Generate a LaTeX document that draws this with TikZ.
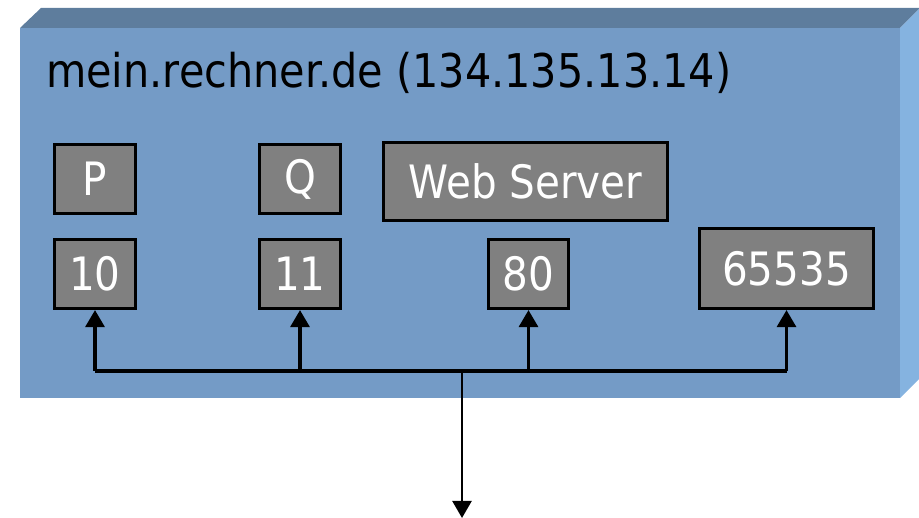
\documentclass[tikz,border=0pt]{standalone}
\usepackage{fontspec}
\setmainfont{DejaVu Sans}[FakeStretch=0.88]
\newfontfamily\titlefont{DejaVu Sans}[FakeStretch=0.89]
\usetikzlibrary{arrows.meta}
\definecolor{frontblue}{RGB}{116,155,198}
\definecolor{topblue}{RGB}{94,125,157}
\definecolor{sideblue}{RGB}{133,179,224}
\definecolor{boxgray}{RGB}{128,128,128}
\tikzset{
  portbox/.style={draw=black, line width=3.2pt, fill=boxgray, text=white,
    font=\fontsize{46}{52}\selectfont, inner sep=0pt},
  conn/.style={line width=3.2pt, -{Triangle[width=19pt,length=17pt]}},
  outconn/.style={line width=2.4pt, -{Triangle[width=19pt,length=17pt]}},
}
\begin{document}
\begin{tikzpicture}[x=1pt,y=-1pt]
\useasboundingbox (0,0) rectangle (919,518);
% 3D box
\fill[frontblue] (20,28) rectangle (900,398);
\fill[topblue] (20,28) -- (41,8) -- (920,8) -- (900,28) -- cycle;
\fill[sideblue] (900,28) -- (920,8) -- (920,378) -- (900,398) -- cycle;
% title
\node[anchor=base west, inner sep=0pt, font=\titlefont\fontsize{46.5}{52}\selectfont] (title) at (46,88) {mein.rechner.de (134.135.13.14)};
% boxes
\node[portbox, minimum width=81pt, minimum height=69pt] (P) at (95,179) {P};
\node[portbox, minimum width=81pt, minimum height=69pt] (p10) at (95,274) {10};
\node[portbox, minimum width=81pt, minimum height=69pt] (Q) at (300,179) {Q};
\node[portbox, minimum width=81pt, minimum height=69pt] (p11) at (300,274) {11};
\node[portbox, minimum width=284pt, minimum height=78pt] (web) at (525.5,181.5) {Web Server};
\node[portbox, minimum width=80pt, minimum height=69pt] (p80) at (528.5,274) {80};
\node[portbox, minimum width=174pt, minimum height=80pt] (p65535) at (786.5,268.5) {65535};
% connectors
\coordinate (J) at (462,371);
\coordinate (out) at (462,518);
\draw[line width=3.2pt] (p10.south |- J) -- (p65535.south |- J);
\draw[conn] (p10.south |- J) -- (p10.south);
\draw[conn] (p11.south |- J) -- (p11.south);
\draw[conn] (p80.south |- J) -- (p80.south);
\draw[conn] (p65535.south |- J) -- (p65535.south);
\draw[outconn] (J) -- (out);
\end{tikzpicture}
\end{document}
